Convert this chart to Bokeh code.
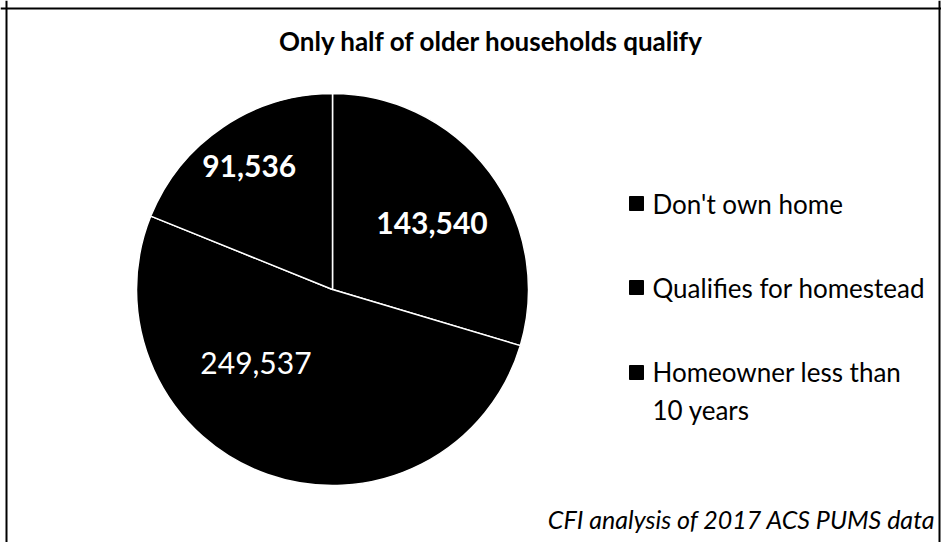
import numpy as np
from bokeh.plotting import figure
from bokeh.models import Range1d, Span, ColumnDataSource
from bokeh.core.properties import value
from bokeh.embed import file_html
from bokeh.resources import INLINE

# ---- data ----
categories = ["Don't own home", "Qualifies for homestead", "Homeowner less than\n10 years"]
counts = [143540, 249537, 91536]
value_labels = ["143,540", "249,537", "91,536"]
title_text = "Only half of older households qualify"
source_note = "CFI analysis of 2017 ACS PUMS data"

# ---- layout constants ----
W, H = 941, 542
CX, CY, R = 332, 253, 196
FONT = "Lato"
label_rfrac = [0.61, 0.54, 0.76]
label_shift_deg = [3, 27, 0]
label_style = ["bold", "normal", "bold"]

counts_arr = np.array(counts, dtype=float)
frac = counts_arr / counts_arr.sum()
cum = np.concatenate([[0.0], np.cumsum(frac)])
start = np.pi / 2 - 2 * np.pi * cum[:-1]
end = np.pi / 2 - 2 * np.pi * cum[1:]
mid_cw = np.degrees(2 * np.pi * (cum[:-1] + cum[1:]) / 2) + np.array(label_shift_deg)
lx = CX + np.array(label_rfrac) * R * np.sin(np.radians(mid_cw))
ly = CY + np.array(label_rfrac) * R * np.cos(np.radians(mid_cw))

p = figure(width=W, height=H, output_backend="svg", toolbar_location=None,
           x_range=Range1d(0, W), y_range=Range1d(0, H),
           min_border=0, outline_line_color=None, background_fill_color="white",
           border_fill_color="white")
p.axis.visible = False
p.grid.visible = False

src = ColumnDataSource(dict(start=start, end=end, cat=categories))
p.wedge(x=CX, y=CY, radius=R, start_angle="start", end_angle="end", direction="clock",
        fill_color="black", line_color="white", line_width=1.5, source=src)

for i in range(3):
    p.text(x=[lx[i]], y=[ly[i]], text=[value_labels[i]], text_color="white",
           text_font=value(FONT), text_font_size="30px", text_font_style=label_style[i],
           text_align="center", text_baseline="middle")

# title
p.text(x=[491], y=[H - 40], text=[title_text], text_font=value(FONT),
       text_font_size="26px", text_font_style="bold", text_align="center",
       text_baseline="middle", text_color="black")

# legend
leg_y = [H - 203, H - 287, H - 372]
p.scatter(x=[636] * 3, y=leg_y, marker="square", size=14, color="black")
for i, cat in enumerate(categories):
    if "\n" in cat:
        p.text(x=[652], y=[leg_y[i] + 17], text=[cat], text_font=value(FONT),
               text_font_size="26px", text_align="left", text_baseline="top",
               text_line_height=1.2, text_color="black")
    else:
        p.text(x=[652], y=[leg_y[i]], text=[cat], text_font=value(FONT),
               text_font_size="26px", text_align="left", text_baseline="middle",
               text_color="black")

# source note
p.text(x=[935], y=[H - 518], text=[source_note], text_font=value(FONT),
       text_font_size="25px", text_font_style="italic", text_align="right",
       text_baseline="middle", text_color="black")

# frame
p.add_layout(Span(location=H - 8, dimension="width", line_color="black", line_width=2))
p.add_layout(Span(location=6, dimension="height", line_color="black", line_width=2))
p.add_layout(Span(location=939, dimension="height", line_color="black", line_width=2))

open("out.html", "w").write(file_html(p, INLINE))
